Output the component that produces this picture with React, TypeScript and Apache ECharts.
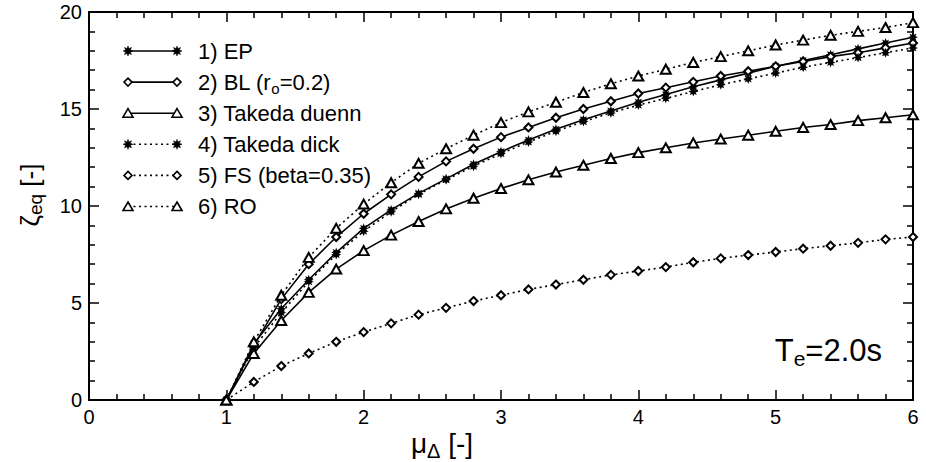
import React, { useEffect, useRef } from "react";
import * as echarts from "echarts";

// ---- data ----
const muValues = [1.0, 1.2, 1.4, 1.6, 1.8, 2.0, 2.2, 2.4, 2.6, 2.8, 3.0, 3.2, 3.4, 3.6, 3.8, 4.0, 4.2, 4.4, 4.6, 4.8, 5.0, 5.2, 5.4, 5.6, 5.8, 6.0];
const epValues = [0, 2.9, 4.7, 6.2, 7.6, 8.85, 9.8, 10.65, 11.4, 12.15, 12.8, 13.4, 13.95, 14.45, 14.9, 15.35, 15.75, 16.15, 16.5, 16.85, 17.2, 17.5, 17.8, 18.1, 18.4, 18.7];
const blValues = [0, 2.8, 5.2, 7.0, 8.4, 9.6, 10.6, 11.5, 12.3, 12.95, 13.55, 14.05, 14.55, 15.0, 15.4, 15.8, 16.1, 16.4, 16.7, 16.95, 17.2, 17.45, 17.7, 17.9, 18.15, 18.4];
const duennValues = [0, 2.4, 4.1, 5.55, 6.75, 7.7, 8.5, 9.2, 9.85, 10.4, 10.9, 11.35, 11.75, 12.1, 12.45, 12.75, 13.0, 13.25, 13.45, 13.65, 13.85, 14.05, 14.2, 14.4, 14.55, 14.7];
const dickValues = [0, 2.7, 4.5, 6.1, 7.5, 8.7, 9.7, 10.6, 11.35, 12.05, 12.7, 13.3, 13.85, 14.35, 14.8, 15.2, 15.55, 15.9, 16.25, 16.55, 16.85, 17.15, 17.4, 17.65, 17.9, 18.15];
const fsValues = [0, 0.93, 1.75, 2.4, 3.0, 3.5, 3.95, 4.4, 4.75, 5.1, 5.4, 5.7, 5.95, 6.2, 6.45, 6.65, 6.85, 7.1, 7.3, 7.47, 7.63, 7.8, 7.95, 8.1, 8.28, 8.4];
const roValues = [0, 3.0, 5.4, 7.35, 8.85, 10.1, 11.2, 12.2, 12.95, 13.65, 14.3, 14.85, 15.35, 15.85, 16.3, 16.7, 17.05, 17.4, 17.7, 18.0, 18.3, 18.55, 18.8, 19.0, 19.2, 19.45];

const seriesNames = ["1) EP", "2) BL (ro=0.2)", "3) Takeda duenn", "4) Takeda dick", "5) FS (beta=0.35)", "6) RO"];
const legendLabels = [
  "{n|1) EP}",
  "{n|2) BL (r}{s|o}{n|=0.2)}",
  "{n|3) Takeda duenn}",
  "{n|4) Takeda dick}",
  "{n|5) FS (beta=0.35)}",
  "{n|6) RO}",
];
const xTicks = { min: 0, max: 6, interval: 1 };
const yTicks = { min: 0, max: 20, interval: 5 };

// ---- styling ----
const FONT = "'Liberation Sans', Arial, sans-serif";
const DOT = [2, 3.5];

function starPoints(cx: number, cy: number, ro: number, ri: number): number[][] {
  const pts: number[][] = [];
  for (let k = 0; k < 16; k++) {
    const a = (Math.PI / 8) * k - Math.PI / 2;
    const r = k % 2 === 0 ? ro : ri;
    pts.push([cx + r * Math.cos(a), cy + r * Math.sin(a)]);
  }
  return pts;
}
const starPath =
  "path://" +
  starPoints(10, 10, 10, 5.2)
    .map((p, i) => (i === 0 ? "M" : "L") + p[0].toFixed(2) + " " + p[1].toFixed(2))
    .join(" ") +
  " Z";

type Kind = "star" | "diamond" | "triangle";
const seriesDefs: { values: number[]; kind: Kind; dotted: boolean }[] = [
  { values: epValues, kind: "star", dotted: false },
  { values: blValues, kind: "diamond", dotted: false },
  { values: duennValues, kind: "triangle", dotted: false },
  { values: dickValues, kind: "star", dotted: true },
  { values: fsValues, kind: "diamond", dotted: true },
  { values: roValues, kind: "triangle", dotted: true },
];

function symbolFor(kind: Kind) {
  if (kind === "star") return { symbol: starPath, symbolSize: 10 };
  if (kind === "diamond") return { symbol: "emptyDiamond", symbolSize: 8 };
  return { symbol: "emptyTriangle", symbolSize: [10, 9] };
}

function legendMarker(kind: Kind, x: number, y: number): any {
  if (kind === "star") {
    return { type: "polygon", z: 20, shape: { points: starPoints(x, y, 5, 2.6) }, style: { fill: "#000", stroke: "#000", lineWidth: 0.5 } };
  }
  if (kind === "diamond") {
    return { type: "polygon", z: 20, shape: { points: [[x, y - 4], [x + 4, y], [x, y + 4], [x - 4, y]] }, style: { fill: "#fff", stroke: "#000", lineWidth: 1.6 } };
  }
  return { type: "polygon", z: 20, shape: { points: [[x, y - 4.5], [x + 5, y + 4], [x - 5, y + 4]] }, style: { fill: "#fff", stroke: "#000", lineWidth: 1.6 } };
}

const axisCommon = {
  axisLine: { show: true, onZero: false, lineStyle: { color: "#000", width: 2 } },
  axisTick: { show: true, inside: true, length: 10, lineStyle: { color: "#000", width: 1.5 } },
  minorTick: { show: true, splitNumber: 5, length: 6, lineStyle: { color: "#000", width: 1.5 } },
  splitLine: { show: false },
  minorSplitLine: { show: false },
};

export default function App() {
  const ref = useRef<HTMLDivElement>(null);
  useEffect(() => {
    if (!ref.current) return;
    const chart = echarts.init(ref.current, undefined, { renderer: "svg" });

    const series = seriesDefs.map((d, i) => ({
      name: seriesNames[i],
      type: "line",
      xAxisIndex: 0,
      yAxisIndex: 0,
      data: muValues.map((m, j) => [m, d.values[j]]),
      ...symbolFor(d.kind),
      showAllSymbol: true,
      clip: false,
      lineStyle: { color: "#000", width: 1.6, type: d.dotted ? DOT : "solid" },
      itemStyle: { color: "#000", borderColor: "#000", borderWidth: d.kind === "star" ? 0 : 1.6 },
      z: 3,
    }));

    const graphics: any[] = [];
    seriesDefs.forEach((d, i) => {
      const y = 51 + 31.1 * i;
      graphics.push({
        type: "line",
        z: 15,
        shape: { x1: 128, y1: y, x2: 177, y2: y },
        style: { stroke: "#000", lineWidth: 1.6, lineDash: d.dotted ? DOT : null },
      });
      graphics.push(legendMarker(d.kind, 128, y));
      graphics.push(legendMarker(d.kind, 177, y));
      graphics.push({
        type: "text",
        z: 20,
        x: 198,
        y: y,
        style: {
          text: legendLabels[i],
          fill: "#000",
          fontSize: 22,
          fontFamily: FONT,
          align: "left",
          verticalAlign: "middle",
          rich: {
            n: { fontSize: 22, fontFamily: FONT, fill: "#000", lineHeight: 24, verticalAlign: "middle" },
            s: { fontSize: 15, fontFamily: FONT, fill: "#000", lineHeight: 15, padding: [13, 0, 0, 0], verticalAlign: "middle" },
          },
        },
      });
    });
    // T_e annotation
    graphics.push({
      type: "text",
      z: 20,
      x: 882,
      y: 350,
      style: {
        text: "{n|T}{s|e}{n|=2.0s}",
        fontSize: 31,
        fontFamily: FONT,
        align: "right",
        verticalAlign: "middle",
        rich: {
          n: { fontSize: 31, fontFamily: FONT, fill: "#000", lineHeight: 33, verticalAlign: "middle" },
          s: { fontSize: 21, fontFamily: FONT, fill: "#000", lineHeight: 21, padding: [17, 0, 0, 0], verticalAlign: "middle" },
        },
      },
    });
    // axis names
    graphics.push({
      type: "text",
      z: 20,
      x: 442,
      y: 443,
      style: {
        text: "{n|μ}{s|Δ}{n| [-]}",
        fontSize: 28,
        fontFamily: FONT,
        align: "center",
        verticalAlign: "middle",
        rich: {
          n: { fontSize: 28, fontFamily: FONT, fill: "#000", lineHeight: 30, verticalAlign: "middle" },
          s: { fontSize: 20, fontFamily: FONT, fill: "#000", lineHeight: 20, padding: [15, 0, 0, 0], verticalAlign: "middle" },
        },
      },
    });
    graphics.push({
      type: "text",
      z: 20,
      x: 30,
      y: 195,
      rotation: Math.PI / 2,
      style: {
        text: "{n|ζ}{s|eq}{n| [-]}",
        fontSize: 26,
        fontFamily: FONT,
        align: "center",
        verticalAlign: "middle",
        rich: {
          n: { fontSize: 26, fontFamily: FONT, fill: "#000", lineHeight: 28, verticalAlign: "middle" },
          s: { fontSize: 19, fontFamily: FONT, fill: "#000", lineHeight: 19, padding: [11, 0, 0, 0], verticalAlign: "middle" },
        },
      },
    });

    chart.setOption({
      animation: false,
      backgroundColor: "#fff",
      grid: { left: 89, top: 12, right: 13, bottom: 62, containLabel: false },
      xAxis: [
        {
          type: "value",
          position: "bottom",
          ...xTicks,
          ...axisCommon,
          axisLabel: { show: true, fontSize: 20, fontFamily: FONT, color: "#000", margin: 7 },
        },
        {
          type: "value",
          position: "top",
          ...xTicks,
          ...axisCommon,
          axisLabel: { show: false },
        },
      ],
      yAxis: [
        {
          type: "value",
          position: "left",
          ...yTicks,
          ...axisCommon,
          axisLabel: { show: true, fontSize: 20, fontFamily: FONT, color: "#000", margin: 7 },
        },
        {
          type: "value",
          position: "right",
          ...yTicks,
          ...axisCommon,
          axisLabel: { show: false },
        },
      ],
      graphic: graphics,
      series,
    });
    return () => chart.dispose();
  }, []);
  return (
    <div
      ref={ref}
      style={{ position: "fixed", left: 0, top: 0, width: 926, height: 462, background: "#fff" }}
    />
  );
}
